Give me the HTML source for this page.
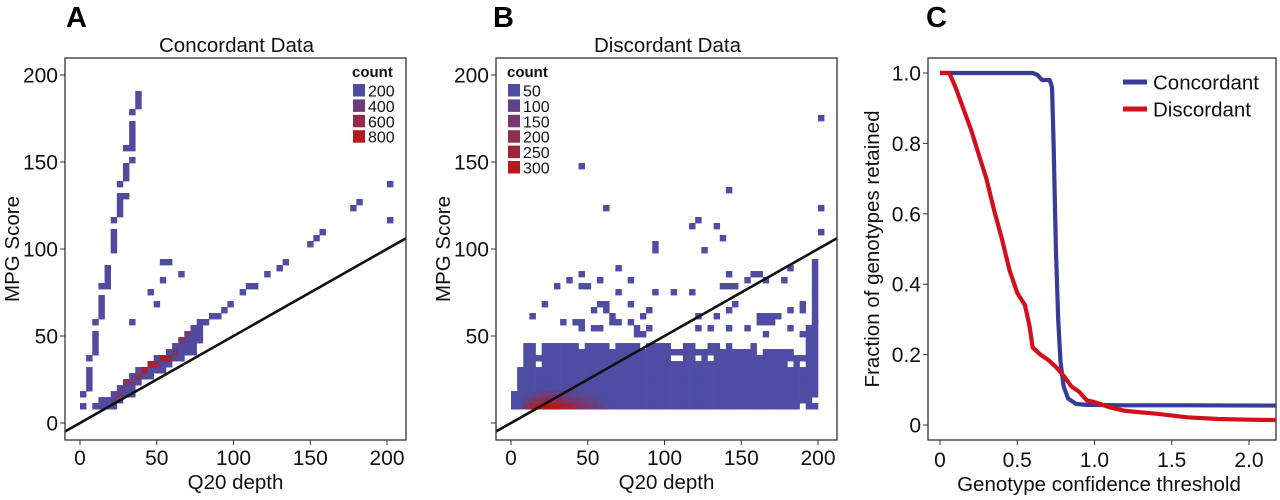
<!DOCTYPE html>
<html><head><meta charset="utf-8"><style>
body{margin:0;background:#fff;width:1280px;height:500px;overflow:hidden}
svg{display:block;font-family:"Liberation Sans",Arial,sans-serif}
</style></head><body>
<svg id="s" width="1280" height="500" viewBox="0 0 1280 500">
<defs>
<clipPath id="clipA"><rect x="65" y="58" width="341" height="382"/></clipPath>
<clipPath id="clipB"><rect x="496" y="58" width="341" height="382"/></clipPath>
<clipPath id="clipC"><rect x="928" y="58" width="348" height="382"/></clipPath>
</defs>
<g id="gA"></g>
<g id="gB"></g>
<g id="gC"></g>
</svg>
<script>
// ---- Panel A data (Concordant) ----
const runAX  =[2,2,6,6,10,10,14,14,18,18,22,22,26,30,26,30,34,30,34,34,34,38,38,
  10,14,18,22,26,30,34,38,42,46,50,54,58,62,66,70,74,78];
const runAY0 =[10,18,21,38,42,58,61,78,80,98,101,118,121,130,138,141,150,159,159,163,178,181,198,
  10,10,10,10,14,18,18,22,26,26,30,30,34,38,38,42,42,46];
const runAY1 =[10,18,32,38,52,58,73,78,91,98,111,118,130,130,138,149,150,159,159,171,178,189,198,
  10,14,14,18,22,22,26,30,30,34,38,38,42,46,46,50,54,58];
const ptsAX=[34,46,50,54,54,58,66,82,86,90,94,98,106,110,114,122,130,134,150,154,158,178,182,202,202];
const ptsAY=[58,75,70,82,94,94,86,58,62,62,66,70,74,78,78,86,90,94,102,106,110,122,126,138,118];
const hotAX=[22,26,30,34,38,42,46,50,54,58,62,66,70];
const hotAY=[14,18,22,22,26,30,34,34,38,38,42,46,50];
const hotAT=[0.3,0.4,0.5,0.4,0.5,0.9,0.95,0.6,0.9,0.8,0.5,0.5,0.3];
// ---- Panel B data (Discordant) ----
const colBX  =[2,6,10,14,18,22,26,30,34,38,42,46,50,54,58,62,66,70,74,78,82,86,90,94,98,102,106,110,114,118,122,126,130,134,138,142,146,150,154,158,162,166,170,174,178,182,186,190,194,198];
const colBTop=[19,31,47,47,40,47,47,47,47,47,47,44,47,47,47,47,44,47,47,47,47,44,47,47,47,47,44,44,47,47,44,44,47,47,44,47,44,44,44,47,40,44,44,44,44,44,40,40,58,92];
const holeBX=[22,30,38,18,106,110,122,130,138,166,182,182,190,190,198];
const holeBY=[41,41,41,34,36,36,38,38,41,26,34,30,34,10,14];
const ptsBX=[46,62,142,202,202,202,122,118,134,138,94,94,126,70,46,58,38,78,30,46,50,22,14,70,94,106,118,78,58,62,54,62,66,90,86,34,42,46,46,54,58,66,70,78,82,90,82,86,142,138,142,146,146,142,134,122,122,130,142,154,158,162,166,178,182,198,162,166,170,174,162,166,170,182,190,190,198,182,190,154,166];
const ptsBY=[146,122,134,174,122,110,117,113,113,106,104,100,98,90,86,81,81,81,77,77,77,70,62,74,74,74,74,70,70,70,66,66,62,66,62,58,58,58,53,53,53,58,58,58,53,53,50,50,86,77,77,77,70,66,62,62,53,53,53,81,86,86,81,81,90,94,62,62,62,62,58,58,58,66,70,66,58,53,50,53,50];
const hotBX=[10,14,18,22,26,30,34,38,42,46,50,54,58,62];
const hotR0=[0.5,0.8,1,1,1,1,0.9,0.8,0.6,0.5,0.4,0.3,0.2,0.1];
const hotR1=[0.2,0.4,0.6,0.7,0.7,0.6,0.5,0.45,0.35,0.3,0.25,0.2,0.1,0.05];
const hotR2=[0.05,0.1,0.2,0.3,0.3,0.25,0.2,0.2,0.15,0.1,0.1,0.08,0.05,0.02];
// ---- Panel C data ----
const concX=[0,0.6,0.63,0.66,0.71,0.725,0.735,0.75,0.765,0.78,0.8,0.83,0.88,0.95,1.2,1.6,2.2];
const concY=[1,1,0.995,0.98,0.98,0.96,0.8,0.5,0.3,0.18,0.11,0.075,0.06,0.057,0.056,0.056,0.055];
const discX=[0,0.06,0.1,0.15,0.2,0.25,0.3,0.35,0.4,0.45,0.5,0.55,0.58,0.6,0.65,0.7,0.75,0.8,0.85,0.9,0.95,1.0,1.1,1.2,1.4,1.6,1.8,2.0,2.2];
const discY=[1,1,0.96,0.9,0.84,0.77,0.7,0.61,0.53,0.44,0.375,0.34,0.28,0.22,0.2,0.185,0.165,0.14,0.11,0.095,0.07,0.065,0.05,0.04,0.032,0.022,0.017,0.015,0.014];
const ticksXY=[0,50,100,150,200];
const ticksCX=[0,0.5,1.0,1.5,2.0];
const ticksCXL=["0","0.5","1.0","1.5","2.0"];
const ticksCY=[0,0.2,0.4,0.6,0.8,1.0];
const ticksCYL=["0","0.2","0.4","0.6","0.8","1.0"];
const legA=[200,400,600,800];
const legB=[50,100,150,200,250,300];

const NS="http://www.w3.org/2000/svg";
function mk(p,t,a,txt){const e=document.createElementNS(NS,t);for(const k in a)e.setAttribute(k,a[k]);if(txt!==undefined)e.textContent=txt;p.appendChild(e);return e;}
function col(t){t=Math.max(0,Math.min(1,t));const a=[76,78,166],b=[182,24,28];return `rgb(${a.map((v,i)=>Math.round(v+(b[i]-v)*t)).join(',')})`;}
const BW=4,BH=3.45,Y0=8;
function snapY(y){return Y0+BH*(Math.floor((y-Y0)/BH)+0.5);}
const TF=21;

function frame(g,L,R,T,B){mk(g,'rect',{x:L,y:T,width:R-L,height:B-T,fill:'none',stroke:'#333','stroke-width':1.3});}
function cell(p,sx,sy,x,y,fill,name){
  const r=mk(p,'rect',{x:sx(x-BW/2),y:sy(y+BH/2),width:BW*1.535+0.3,height:BH*1.74+0.4,fill:fill});
  
  
  return r;
}
function scatterAxes(g,sx,sy,L,R,T,B,showZero,titleText,letter,letterX,ylabX){
  frame(g,L,R,T,B);
  ticksXY.forEach(v=>{
    mk(g,'line',{x1:sx(v),x2:sx(v),y1:B,y2:B+5,stroke:'#333'});
    const t=mk(g,'text',{x:sx(v),y:465,'font-size':TF,'text-anchor':'middle',fill:'#111'},String(v));
    
    
    mk(g,'line',{x1:L-5,x2:L,y1:sy(v),y2:sy(v),stroke:'#333'});
    if(v!==0||showZero){
      const u=mk(g,'text',{x:L-7,y:sy(v)+7.5,'font-size':TF,'text-anchor':'end',fill:'#111'},String(v));
      
      
    }
  });
  const xt=mk(g,'text',{x:(L+R)/2,y:489,'font-size':20.5,'text-anchor':'middle',fill:'#111'},'Q20 depth');
  
  const yt=mk(g,'text',{x:0,y:0,'font-size':20.5,'text-anchor':'middle',fill:'#111',transform:`translate(${ylabX},249) rotate(-90)`},'MPG Score');
  
  const tt=mk(g,'text',{x:(L+R)/2+1,y:52,'font-size':20.5,'text-anchor':'middle',fill:'#111'},titleText);
  
  const lt=mk(g,'text',{x:letterX,y:27,'font-size':29,'font-weight':'bold',fill:'#000'},letter);
  
}
function diagLine(g,sx,sy,clip){
  const l=mk(g,'line',{x1:sx(-20),y1:sy(-10),x2:sx(230),y2:sy(115),stroke:'#111','stroke-width':2.6,'clip-path':clip});
  
}
function legend(g,x,vals){
  const t=mk(g,'text',{x:x,y:77,'font-size':15,'font-weight':'bold',fill:'#111'},'count');
  
  vals.forEach((v,i)=>{
    const y=84+i*15.4;
    const r=mk(g,'rect',{x:x+1,y:y,width:12,height:12.5,fill:col((v-vals[0])/(vals[vals.length-1]-vals[0]))});
    
    const tx=mk(g,'text',{x:x+16,y:y+12.5,'font-size':16,fill:'#111'},String(v));
    
  });
}

// Panel A
(function(){
  const g=document.getElementById('gA');
  const sx=v=>80+v*1.535, sy=v=>423-v*1.74;
  const cells=mk(g,'g',{'clip-path':'url(#clipA)'});
  runAX.forEach((x,i)=>{
    for(let y=snapY(runAY0[i]);y<=runAY1[i]+0.01+BH/2-0.5;y+=BH){cell(cells,sx,sy,x,y,col(0.05),'heat-cell');}
  });
  ptsAX.forEach((x,i)=>cell(cells,sx,sy,x,snapY(ptsAY[i]),col(0.02),'heat-cell'));
  hotAX.forEach((x,i)=>cell(cells,sx,sy,x,snapY(hotAY[i]),col(hotAT[i]),'heat-cell-hot'));
  diagLine(g,sx,sy,'url(#clipA)');
  scatterAxes(g,sx,sy,65,406,58,440,true,'Concordant Data','A',66,19);
  legend(g,352,legA);
})();

// Panel B
(function(){
  const g=document.getElementById('gB');
  const sx=v=>511+v*1.535, sy=v=>423-v*1.74;
  const cells=mk(g,'g',{'clip-path':'url(#clipB)'});
  const holes=new Set(holeBX.map((x,i)=>x+'_'+snapY(holeBY[i]).toFixed(2)));
  colBX.forEach((x,i)=>{
    for(let y=snapY(Y0);y<colBTop[i];y+=BH){
      if(holes.has(x+'_'+y.toFixed(2)))continue;
      cell(cells,sx,sy,x,y,col(0.02),'heat-cell');
    }
  });
  ptsBX.forEach((x,i)=>cell(cells,sx,sy,x,snapY(ptsBY[i]),col(0.02),'heat-cell'));
  [hotR0,hotR1,hotR2].forEach((row,r)=>{
    hotBX.forEach((x,i)=>cell(cells,sx,sy,x,snapY(Y0)+r*BH,col(row[i]),'heat-cell-hot'));
  });
  diagLine(g,sx,sy,'url(#clipB)');
  scatterAxes(g,sx,sy,496,837,58,440,false,'Discordant Data','B',493,450);
  legend(g,507,legB);
})();

// Panel C
(function(){
  const g=document.getElementById('gC');
  const sx=v=>940+v*154.5, sy=v=>425-v*352;
  const L=928,R=1276,T=58,B=440;
  frame(g,L,R,T,B);
  ticksCX.forEach((v,i)=>{
    mk(g,'line',{x1:sx(v),x2:sx(v),y1:B,y2:B+5,stroke:'#333'});
    const t=mk(g,'text',{x:sx(v),y:467,'font-size':TF,'text-anchor':'middle',fill:'#111'},ticksCXL[i]);
    
  });
  ticksCY.forEach((v,i)=>{
    mk(g,'line',{x1:L-5,x2:L,y1:sy(v),y2:sy(v),stroke:'#333'});
    const t=mk(g,'text',{x:L-7,y:sy(v)+7.5,'font-size':TF,'text-anchor':'end',fill:'#111'},ticksCYL[i]);
    
  });
  const cg=mk(g,'g',{'clip-path':'url(#clipC)'});
  const pc=mk(cg,'path',{d:concX.map((x,i)=>(i?'L':'M')+sx(x).toFixed(1)+','+sy(concY[i]).toFixed(1)).join(''),fill:'none',stroke:'#373c96','stroke-width':4.2,'stroke-linejoin':'round'});
  
  const pd=mk(cg,'path',{d:discX.map((x,i)=>(i?'L':'M')+sx(x).toFixed(1)+','+sy(discY[i]).toFixed(1)).join(''),fill:'none',stroke:'#d30f1e','stroke-width':4.2,'stroke-linejoin':'round'});
  
  [['Concordant','#373c96',82],['Discordant','#d30f1e',109]].forEach(([n,c,y])=>{
    const l=mk(g,'line',{x1:1123,x2:1147,y1:y,y2:y,stroke:c,'stroke-width':5});
    
    const t=mk(g,'text',{x:1153,y:y+7.5,'font-size':20.5,fill:'#111'},n);
    
  });
  const xt=mk(g,'text',{x:1099,y:491,'font-size':20.5,'text-anchor':'middle',fill:'#111'},'Genotype confidence threshold');
  
  const yt=mk(g,'text',{x:0,y:0,'font-size':20.5,'text-anchor':'middle',fill:'#111',transform:'translate(879,249) rotate(-90)'},'Fraction of genotypes retained');
  
  const lt=mk(g,'text',{x:926,y:27,'font-size':29,'font-weight':'bold',fill:'#000'},'C');
  
})();
</script>
</body></html>
